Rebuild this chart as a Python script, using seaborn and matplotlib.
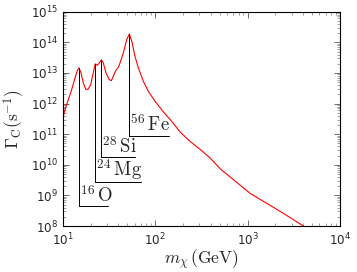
import matplotlib
matplotlib.use("Agg")
import matplotlib.pyplot as plt
import seaborn as sns
import numpy as np
import pandas as pd

# Dark-matter mass (GeV) and capture rate (s^-1)
mass = [10, 10.6, 11.5, 12.5, 13.6, 14.4, 15.0, 15.8, 16.7, 17.9, 18.9, 20.1,
        21.4, 22.5, 23.7, 24.9, 26.2, 27.5, 29.4, 31.9, 33.6, 35.3, 37.5, 40.6,
        45.3, 49.3, 52.6, 55.9, 60.5, 65.8, 74.5, 84.3, 99.8, 123, 151, 186,
        239, 306, 393, 516, 1064, 2438, 4018]
rate = [3.26e11, 6.32e11, 1.34e12, 2.84e12, 6.87e12, 1.19e13, 1.46e13, 1.00e13,
        4.71e12, 2.84e12, 3.00e12, 4.15e12, 1.00e13, 1.97e13, 1.79e13, 2.12e13,
        2.66e13, 2.12e13, 1.00e13, 6.04e12, 5.60e12, 7.80e12, 1.19e13, 1.66e13,
        4.51e13, 1.22e14, 1.88e14, 1.09e14, 3.52e13, 1.46e13, 5.36e12, 2.52e12,
        1.19e12, 5.31e11, 2.64e11, 1.18e11, 5.77e10, 3.21e10, 1.67e10, 7.01e9,
        1.17e9, 2.60e8, 1.00e8]

# Element resonance labels
elements = [r"$^{16}\,\mathrm{O}$", r"$^{24}\,\mathrm{Mg}$", r"$^{28}\,\mathrm{Si}$", r"$^{56}\,\mathrm{Fe}$"]
peak_mass = [15.0, 22.5, 26.2, 52.6]
peak_rate = [1.46e13, 1.97e13, 2.66e13, 1.88e14]
label_rate = [4.5e8, 2.7e9, 1.8e10, 8.9e10]
label_end_mass = [31.0, 70.5, 60.7, 143.0]

x_ticks = [1e1, 1e2, 1e3, 1e4]
y_ticks = [1e8, 1e9, 1e10, 1e11, 1e12, 1e13, 1e14, 1e15]

sns.set_style("ticks", {"xtick.direction": "in", "ytick.direction": "in"})
plt.rcParams["font.family"] = ["DejaVu Sans"]
plt.rcParams["xtick.top"] = True
plt.rcParams["ytick.right"] = True
plt.rcParams["xtick.labelsize"] = 8.6
plt.rcParams["ytick.labelsize"] = 8.6
plt.rcParams["axes.edgecolor"] = "black"
plt.rcParams["axes.linewidth"] = 0.8

fig = plt.figure(figsize=(3.57, 2.72), dpi=100)
ax = fig.add_axes([0.1756, 0.169, 0.7768, 0.788])
ax.set_xscale("log")
ax.set_yscale("log")

df = pd.DataFrame({"mass": mass, "rate": rate})
sns.lineplot(data=df, x="mass", y="rate", color="red", lw=0.8, ax=ax, sort=False)

for lab, pm, pr, lr, le in zip(elements, peak_mass, peak_rate, label_rate, label_end_mass):
    ax.plot([pm, pm], [pr, lr], color="black", lw=0.7)
    ax.plot([pm, le], [lr, lr], color="black", lw=0.7)
    ax.annotate(lab, xy=(pm, lr), xytext=(0.6, 0.3), textcoords="offset points",
                ha="left", va="bottom", fontsize=13.5, math_fontfamily="cm")

ax.set_xlim(1e1, 1e4)
ax.set_ylim(1e8, 1e15)
ax.set_xticks(x_ticks)
ax.set_yticks(y_ticks)
ax.tick_params(which="major", length=4, width=0.6, color="#555555")
ax.tick_params(which="minor", length=2, width=0.5, color="#777777")
ax.tick_params(axis="x", pad=4)
ax.tick_params(axis="y", pad=3.5)

ax.set_xlabel(r"$m_\chi\,(\mathrm{GeV})$", fontsize=12.5, math_fontfamily="cm", labelpad=0)
ax.set_ylabel(r"$\Gamma_\mathrm{C}(\mathrm{s}^{-1})$", fontsize=12.5, math_fontfamily="cm", labelpad=3)

fig.savefig("out.png", dpi=100)
